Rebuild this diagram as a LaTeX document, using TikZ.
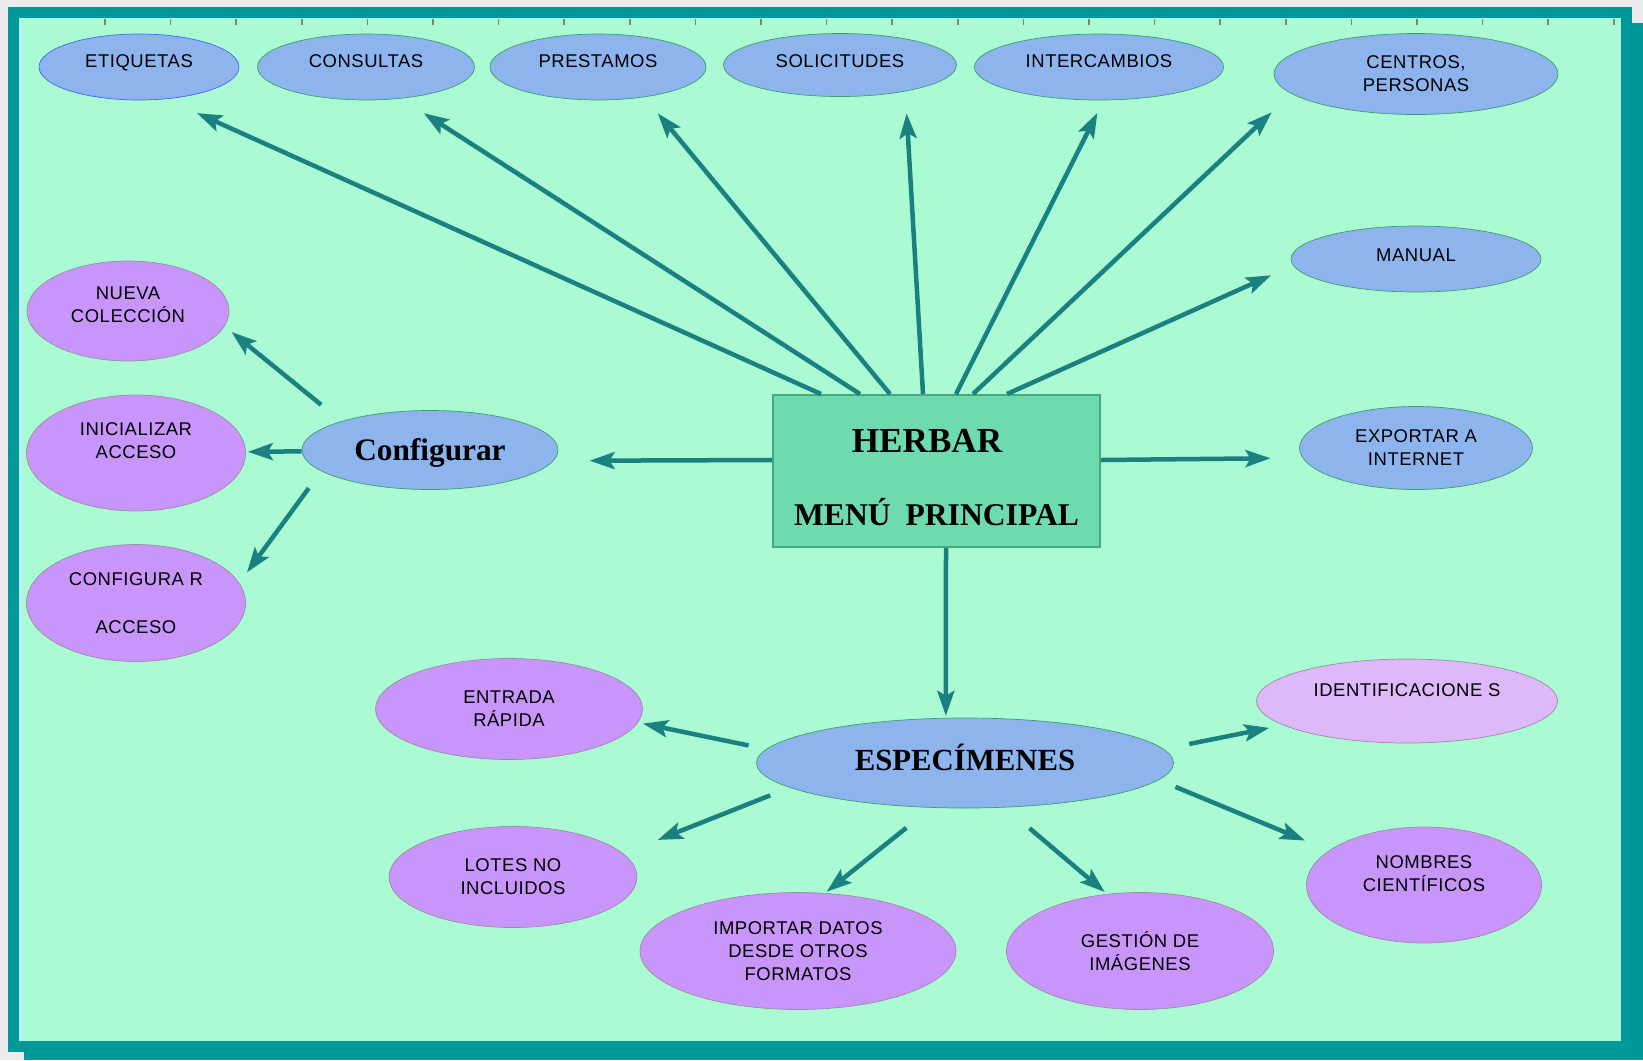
\documentclass[tikz,border=0pt]{standalone}
\usepackage{fontspec}
\usetikzlibrary{shapes.geometric,arrows.meta}
\newfontfamily\labfont[LetterSpace=3]{Liberation Sans}
\newfontfamily\titfont{Liberation Serif}
\definecolor{mint}{HTML}{AAFBD3}
\definecolor{framecol}{HTML}{009999}
\definecolor{arrowcol}{HTML}{1A8080}
\definecolor{menucol}{HTML}{6DDBAE}
\definecolor{menuline}{HTML}{45AA80}
\definecolor{opblue}{HTML}{8EB4EE}
\definecolor{opbline}{HTML}{3C9E70}
\definecolor{oppurple}{HTML}{C896FA}
\definecolor{oppline}{HTML}{9C8CA4}
\definecolor{oplilac}{HTML}{DDB9FA}
\begin{document}
\begin{tikzpicture}[x=0.2mm,y=-0.2mm,
	lab/.style={font=\labfont\fontsize{10.5}{13.1}\selectfont,align=center,inner sep=0pt},
	blueop/.style={ellipse,lab,draw=opbline,fill=opblue},
	purpleop/.style={ellipse,lab,draw=oppline,fill=oppurple},
	arr/.style={draw=arrowcol,line width=0.9mm,-{Stealth[length=5mm,width=3.4mm,inset=1mm]}}]
				\useasboundingbox (0,0) rectangle (1643,1060);
				% frame
				\fill[gray!15] (0,0) rectangle (1643,1060);
				\fill[framecol] (24,23) rectangle (1643,1060);
				\fill[framecol] (8,7) rectangle (1632,1052);
				\fill[mint] (19,18) rectangle (1621,1041);
				\draw[cyan!25,line width=0.6mm] (20.5,19) -- (20.5,1040);
				\foreach \k in {0,...,23} \draw[gray,line width=0.3mm] (105+65.6*\k,19) -- ++(0,6);
				% main menu
				\node[rectangle,draw=menuline,line width=0.4mm,fill=menucol,minimum width=65.4mm,minimum height=30.4mm,align=center,text height=62.3pt,text depth=0pt,font=\titfont\bfseries\fontsize{20}{24}\selectfont] (herbar) at (936.5,471) {HERBAR\kern10.8pt\\[17.8pt]{\fontsize{18}{24}\selectfont MENÚ\hspace{.47em}PRINCIPAL}};
				% top row
				\node[blueop,draw=blue!45!opblue,minimum width=40mm,minimum height=13.2mm,text depth=7pt] (etiquetas) at (139,67) {ETIQUETAS};
				\node[blueop,minimum width=43.4mm,minimum height=13.2mm,text depth=7pt] (consultas) at (366,67) {CONSULTAS};
				\node[blueop,minimum width=43.2mm,minimum height=13.2mm,text depth=7pt] (prestamos) at (598,67) {PRESTAMOS};
				\node[blueop,minimum width=46.6mm,minimum height=12.6mm,text depth=4.8pt] (solicitudes) at (840,65) {SOLICITUDES};
				\node[blueop,minimum width=49.8mm,minimum height=13.2mm,text depth=7pt] (intercambios) at (1099,67) {INTERCAMBIOS};
				\node[blueop,minimum width=56.8mm,minimum height=16.2mm] (centros) at (1416,74) {CENTROS,\\PERSONAS};
				% right column
				\node[blueop,minimum width=50mm,minimum height=13.2mm,text depth=4.5pt] (manual) at (1416,259) {MANUAL};
				\node[blueop,minimum width=46.6mm,minimum height=16.6mm] (exportar) at (1416,448) {EXPORTAR A\\INTERNET};
				% configuration
				\node[blueop,font=\titfont\bfseries\fontsize{17.8}{20}\selectfont,text height=11.8pt,text depth=0pt,minimum width=51.2mm,minimum height=15.8mm] (configurar) at (430,450) {Configurar};
				\node[purpleop,minimum width=40.4mm,minimum height=20mm,text depth=7pt] (nuevacol) at (128,311) {NUEVA\\COLECCIÓN};
				\node[purpleop,minimum width=43.8mm,minimum height=23.2mm,text depth=13.7pt] (inicializar) at (136,453) {INICIALIZAR\\ACCESO};
				\node[purpleop,minimum width=43.8mm,minimum height=23.4mm] (confacceso) at (136,603) {CONFIGURA R\\[14pt]ACCESO};
				% specimens
				\node[blueop,font=\titfont\bfseries\fontsize{17.5}{20}\selectfont,text height=11.6pt,text depth=3pt,minimum width=83.4mm,minimum height=18mm] (especimenes) at (965,763) {ESPECÍMENES};
				\node[purpleop,minimum width=53.4mm,minimum height=20.2mm] (entrada) at (509,709) {ENTRADA\\RÁPIDA};
				\node[purpleop,minimum width=49.6mm,minimum height=20.2mm] (lotes) at (513,877) {LOTES NO\\INCLUIDOS};
				\node[purpleop,minimum width=63.2mm,minimum height=23.4mm] (importar) at (798,951) {IMPORTAR DATOS\\DESDE OTROS\\FORMATOS};
				\node[purpleop,minimum width=53.4mm,minimum height=23.4mm] (gestion) at (1140,951) {GESTIÓN DE\\IMÁGENES};
				\node[purpleop,minimum width=47mm,minimum height=23.2mm,text depth=12.5pt] (nombres) at (1424,885) {NOMBRES\\CIENTÍFICOS};
				\node[purpleop,fill=oplilac,minimum width=60.2mm,minimum height=16.8mm,text depth=12pt] (identif) at (1407,701) {IDENTIFICACIONE S};
				% arrows from the main menu
				\path[arr,shorten >=6.8mm] ([xshift=9.8mm]herbar.north west) -- (etiquetas.-50);
				\path[arr,shorten >=5.4mm] ([xshift=17.6mm]herbar.north west) -- (consultas.-42);
				\path[arr,shorten >=4.2mm] ([xshift=23.6mm]herbar.north west) -- (prestamos.-33);
				\path[arr,shorten >=4.4mm] ([xshift=30.2mm]herbar.north west) -- (solicitudes.-22);
				\path[arr,shorten >=2.8mm] ([xshift=36.8mm]herbar.north west) -- (intercambios.-82);
				\path[arr,shorten >=5.4mm] ([xshift=40.2mm]herbar.north west) -- (centros.189);
				\path[arr,shorten >=4.8mm] ([xshift=47mm]herbar.north west) -- (manual.183);
				\path[arr,shorten >=6.4mm] ([yshift=2.2mm]herbar.east) -- (exportar.185);
				\path[arr,shorten >=7.2mm] ([yshift=2.2mm]herbar.west) -- (configurar.-5);
				\path[arr,shorten >=0.4mm] ([xshift=1.9mm]herbar.south) -- (especimenes.113);
				% configuration arrows
				\path[arr,shorten <=5.2mm,shorten >=1.8mm] (configurar.162) -- (nuevacol.-9);
				\path[arr,shorten >=0.4mm] (configurar) -- (inicializar);
				\path[arr,shorten <=4.2mm,shorten >=2.6mm] (configurar.191) -- (confacceso.11);
				% specimen arrows
				\path[arr,shorten <=3.6mm,shorten >=1mm] (especimenes.176) -- (entrada.-6);
				\path[arr,shorten <=4.2mm,shorten >=7.4mm] (especimenes.188) -- (lotes.12);
				\path[arr,shorten <=6.4mm,shorten >=0.4mm] (especimenes.233) -- (importar.65);
				\path[arr,shorten <=6.4mm,shorten >=0.6mm] (especimenes.-48) -- (gestion.120);
				\path[arr,shorten <=3.6mm,shorten >=5.2mm] (especimenes.-5) -- (nombres.160);
				\path[arr,shorten <=5.2mm,shorten >=2.8mm] (especimenes.4.5) -- (identif.191);
			\end{tikzpicture}
\end{document}
